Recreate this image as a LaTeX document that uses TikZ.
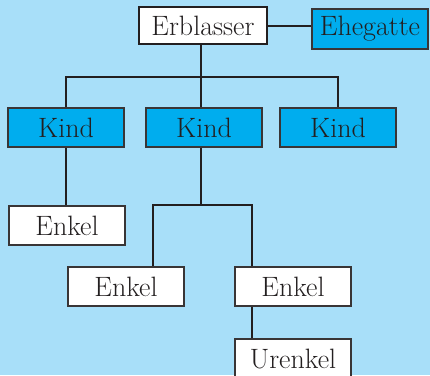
\documentclass[tikz,border=0pt]{standalone}
\usepackage{tikz}

\definecolor{hgblau}{RGB}{168,223,249}
\definecolor{kindblau}{RGB}{0,173,238}
\definecolor{linie}{RGB}{35,31,32}

\begin{document}
\begin{tikzpicture}[x=1pt,y=-1pt,
    box/.style={draw=linie!90, line width=1.2pt, minimum width=116pt, minimum height=39pt,
        inner sep=0pt, text=linie, font=\fontsize{28}{30}\selectfont},
    weiss/.style={box, fill=white},
    blau/.style={box, fill=kindblau},
    ast/.style={linie, line width=2pt}]

    % Hintergrund
    \useasboundingbox (0,0) rectangle (430,375);
    \clip (0,0) rectangle (430,375);
    \fill[hgblau] (0,0) rectangle (430,375);

    % Personen
    \node[weiss, minimum width=128pt, minimum height=37pt, draw=linie, line width=2.2pt] (erb) at (203,25.5) {Erblasser};
    \node[blau, minimum height=40pt] (ehe) at (370,29) {Ehegatte};
    \node[blau] (kind1) at (66,127.5) {Kind};
    \node[blau] (kind2) at (204,127.5) {Kind};
    \node[blau] (kind3) at (338,127.5) {Kind};
    \node[weiss] (enkel1) at (67,225.5) {Enkel};
    \node[weiss] (enkel2) at (126,286.5) {Enkel};
    \node[weiss] (enkel3) at (293,286.5) {Enkel};
    \node[weiss] (urenkel) at (293,358.5) {Urenkel};

    % Verbindungen
    \coordinate (oben) at (201,77);
    \coordinate (jl) at (153,205);
    \coordinate (jr) at (252,205);
    \draw[ast] (erb.east) -- (ehe.west |- erb.east);
    \draw[ast] (erb.south -| oben) -- (kind2.north -| oben);
    \draw[ast] (kind1.north) |- (oben) -| (kind3.north);
    \draw[ast] (kind1.south) -- (kind1.south |- enkel1.north);
    \draw[ast] (kind2.south -| oben) -- (jl -| oben);
    \draw[ast] (enkel2.north -| jl) -- (jl) -- (jr) -- (enkel3.north -| jr);
    \draw[ast] (enkel3.south -| jr) -- (urenkel.north -| jr);
\end{tikzpicture}
\end{document}
